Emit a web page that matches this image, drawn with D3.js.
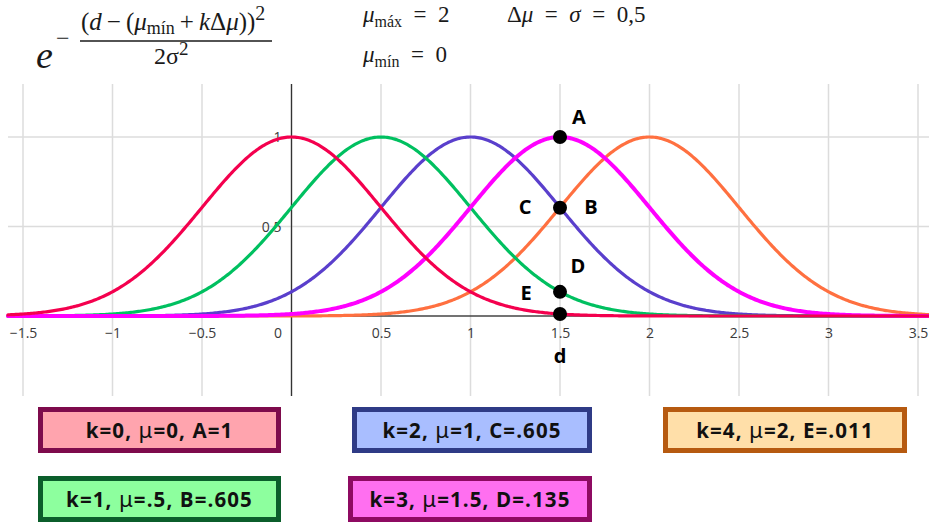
<!DOCTYPE html>
<html><head><meta charset="utf-8">
<script src="https://cdn.jsdelivr.net/npm/d3@7"></script>
<style>body{margin:0;background:#fff}svg{display:block}</style>
</head><body>
<svg id="chart" width="929" height="523"></svg>
<script>
// Gaussian membership curves e^(-(d-(mu_min+k*dmu))^2 / (2 sigma^2))
const ks = [0, 1, 2, 3, 4];
const muMin = 0, muMax = 2, dMu = 0.5, sigma = 0.5;
const mus = ks.map(k => muMin + k * dMu);
const curveColors = ["#f4004e", "#00c060", "#5a3fcc", "#ff00ff", "#ff7040"];
const drawOrder = [4, 2, 1, 3, 0];
const xTicks = [-1.5, -1, -0.5, 0, 0.5, 1, 1.5, 2, 2.5, 3, 3.5];
const yGrid = [0, 0.5, 1];
const yTickLabels = [0.5, 1];
const dValue = 1.5;
const letters = ["A", "B", "C", "D", "E"];
const letterValues = [1, 0.605, 0.605, 0.135, 0.011];
const boxFills = ["#ffa4ae", "#8dff9e", "#a9beff", "#ff6ff0", "#ffdfa9"];
const boxBorders = ["#7e0b4c", "#0b5e2b", "#2f3b86", "#8e0a62", "#b65a10"];

const svg = d3.select("#chart");
const x = d3.scaleLinear().domain([-1.5, 3.5]).range([23, 918]);
const y = d3.scaleLinear().domain([0, 1]).range([316, 137]);
const gridTop = 84, gridBottom = 396, left = 8, right = 929;

// grid
const grid = svg.append("g").attr("stroke", "#dcdcdc").attr("stroke-width", 1.5);
grid.selectAll("line.v").data(xTicks).join("line").attr("class", "v")
  .attr("x1", d => x(d)).attr("x2", d => x(d)).attr("y1", gridTop).attr("y2", gridBottom);
grid.selectAll("line.h").data(yGrid.filter(v => v !== 0)).join("line").attr("class", "h")
  .attr("x1", left).attr("x2", right).attr("y1", d => y(d)).attr("y2", d => y(d));

// axes lines
svg.append("line").attr("x1", left).attr("x2", right).attr("y1", y(0)).attr("y2", y(0))
  .attr("stroke", "#444").attr("stroke-width", 1.3);
svg.append("line").attr("x1", x(0)).attr("x2", x(0)).attr("y1", gridTop).attr("y2", gridBottom)
  .attr("stroke", "#333").attr("stroke-width", 1.3);

// x tick labels
const fmt = v => (v < 0 ? "\u2212" : "") + String(Math.abs(v));
const xAxis = d3.axisBottom(x).tickValues(xTicks).tickSize(0).tickPadding(0).tickFormat(fmt);
const gx = svg.append("g").attr("transform", `translate(0,${y(0)})`).call(xAxis);
gx.select(".domain").remove();
gx.selectAll("text").attr("y", 22).attr("dy", 0)
  .attr("font-family", "Open Sans, sans-serif").attr("font-size", 14).attr("fill", "#3a3a3a")
  .attr("x", d => d === 0 ? -14 : 0);

// y tick labels
const yAxis = d3.axisLeft(y).tickValues(yTickLabels).tickSize(0).tickPadding(10).tickFormat(d => String(d));
const gy = svg.append("g").attr("transform", `translate(${x(0)},0)`).call(yAxis);
gy.select(".domain").remove();
gy.selectAll("text").attr("font-family", "Open Sans, sans-serif").attr("font-size", 14)
  .attr("fill", "#3a3a3a").attr("dy", "0.35em");

// curves
const dDomain = [x.invert(left), x.invert(right)];
const samples = d3.range(0, 601).map(i => dDomain[0] + (dDomain[1] - dDomain[0]) * i / 600);
const gauss = (d, mu) => Math.exp(-((d - mu) ** 2) / (2 * sigma * sigma));
const line = d3.line().x(d => x(d[0])).y(d => y(d[1])).curve(d3.curveLinear);
const curves = svg.append("g").attr("fill", "none").attr("stroke-linecap", "round");
drawOrder.forEach(i => {
  curves.append("path")
    .attr("d", line(samples.map(d => [d, gauss(d, mus[i])])))
    .attr("stroke", curveColors[i])
    .attr("stroke-width", i === 3 ? 4 : 3.2);
});

// points at d = 1.5
const pointVals = Array.from(new Set(letterValues));
svg.append("g").selectAll("circle").data(pointVals).join("circle")
  .attr("cx", x(dValue)).attr("cy", d => y(d)).attr("r", 7).attr("fill", "#000");

// point labels
const px = x(dValue);
const lbl = svg.append("g").attr("font-family", "Open Sans, sans-serif")
  .attr("font-weight", "bold").attr("font-size", 20).attr("fill", "#000").attr("text-anchor", "middle");
const labelSpots = [
  { t: "A", dx: 19, v: letterValues[0], dy: -13 },
  { t: "C", dx: -35, v: letterValues[2], dy: 6 },
  { t: "B", dx: 31, v: letterValues[1], dy: 6 },
  { t: "D", dx: 18, v: letterValues[3], dy: -19 },
  { t: "E", dx: -34, v: letterValues[3], dy: 8 },
];
labelSpots.forEach(s => lbl.append("text").attr("x", px + s.dx).attr("y", y(s.v) + s.dy).text(s.t));
lbl.append("text").attr("x", px).attr("y", 363).text("d");

// legend boxes
const numStr = v => v === Math.round(v) ? String(v) : String(v).replace(/^0\./, ".");
const boxes = [
  { i: 0, x: 38, y: 407, w: 243 },
  { i: 1, x: 38, y: 476, w: 243 },
  { i: 2, x: 352, y: 407, w: 240 },
  { i: 3, x: 348, y: 476, w: 244 },
  { i: 4, x: 663, y: 407, w: 244 },
];
const bh = 46, bw = 5;
boxes.forEach(b => {
  const i = b.i;
  svg.append("rect").attr("x", b.x + bw / 2).attr("y", b.y + bw / 2)
    .attr("width", b.w - bw).attr("height", bh - bw)
    .attr("fill", boxFills[i]).attr("stroke", boxBorders[i]).attr("stroke-width", bw);
  const t = svg.append("text").attr("x", b.x + b.w / 2).attr("y", b.y + 31)
    .attr("text-anchor", "middle").attr("font-family", "Open Sans, sans-serif")
    .attr("font-weight", "bold").attr("font-size", 20.5).attr("letter-spacing", 1.1).attr("fill", "#111");
  t.append("tspan").text(`k=${ks[i]}, `);
  t.append("tspan").attr("font-weight", "normal").attr("font-family", "Noto Sans, sans-serif")
    .attr("font-size", 22).text("\u03bc");
  t.append("tspan").text(`=${numStr(mus[i])}, ${letters[i]}=${numStr(letterValues[i])}`);
});

// formula
const serif = "Liberation Serif, Times New Roman, serif";
const sp = "\u2009";
const f = svg.append("g").attr("font-family", serif).attr("fill", "#1a1a1a");
f.append("text").attr("x", 36).attr("y", 68).attr("font-size", 38).attr("font-style", "italic").text("e");
f.append("text").attr("x", 56).attr("y", 46).attr("font-size", 24).text("\u2212");
const num = f.append("text").attr("x", 81).attr("y", 30).attr("font-size", 25);
num.append("tspan").text("(");
num.append("tspan").attr("font-style", "italic").text("d");
num.append("tspan").text(sp + "\u2212" + sp + "(");
num.append("tspan").attr("font-style", "italic").text("\u03bc");
num.append("tspan").attr("font-size", 18).attr("dy", 4).text("m\u00edn");
num.append("tspan").attr("dy", -4).text(sp + "+" + sp);
num.append("tspan").attr("font-style", "italic").text("k");
num.append("tspan").text("\u0394");
num.append("tspan").attr("font-style", "italic").text("\u03bc");
num.append("tspan").text("))");
num.append("tspan").attr("font-size", 20).attr("dy", -10).text("2");
f.append("line").attr("x1", 80).attr("x2", 272).attr("y1", 41).attr("y2", 41)
  .attr("stroke", "#1a1a1a").attr("stroke-width", 1.3);
const den = f.append("text").attr("x", 154).attr("y", 64).attr("font-size", 24);
den.append("tspan").text("2\u03c3");
den.append("tspan").attr("font-size", 19).attr("dy", -9).text("2");

// parameters
const pm = svg.append("g").attr("font-family", serif).attr("font-size", 23).attr("fill", "#1a1a1a");
const eq = v => "\u2002=\u2002" + v;
const t1 = pm.append("text").attr("x", 363).attr("y", 22);
t1.append("tspan").attr("font-style", "italic").text("\u03bc");
t1.append("tspan").attr("font-size", 16).attr("dy", 5).text("m\u00e1x");
t1.append("tspan").attr("dy", -5).text(eq(muMax));
const t2 = pm.append("text").attr("x", 507).attr("y", 22);
t2.append("tspan").text("\u0394");
t2.append("tspan").attr("font-style", "italic").text("\u03bc");
t2.append("tspan").text("\u2002=\u2002");
t2.append("tspan").attr("font-style", "italic").text("\u03c3");
t2.append("tspan").text(eq(String(dMu).replace(".", ",")));
const t3 = pm.append("text").attr("x", 363).attr("y", 62);
t3.append("tspan").attr("font-style", "italic").text("\u03bc");
t3.append("tspan").attr("font-size", 16).attr("dy", 5).text("m\u00edn");
t3.append("tspan").attr("dy", -5).text(eq(muMin));
</script>
</body></html>
